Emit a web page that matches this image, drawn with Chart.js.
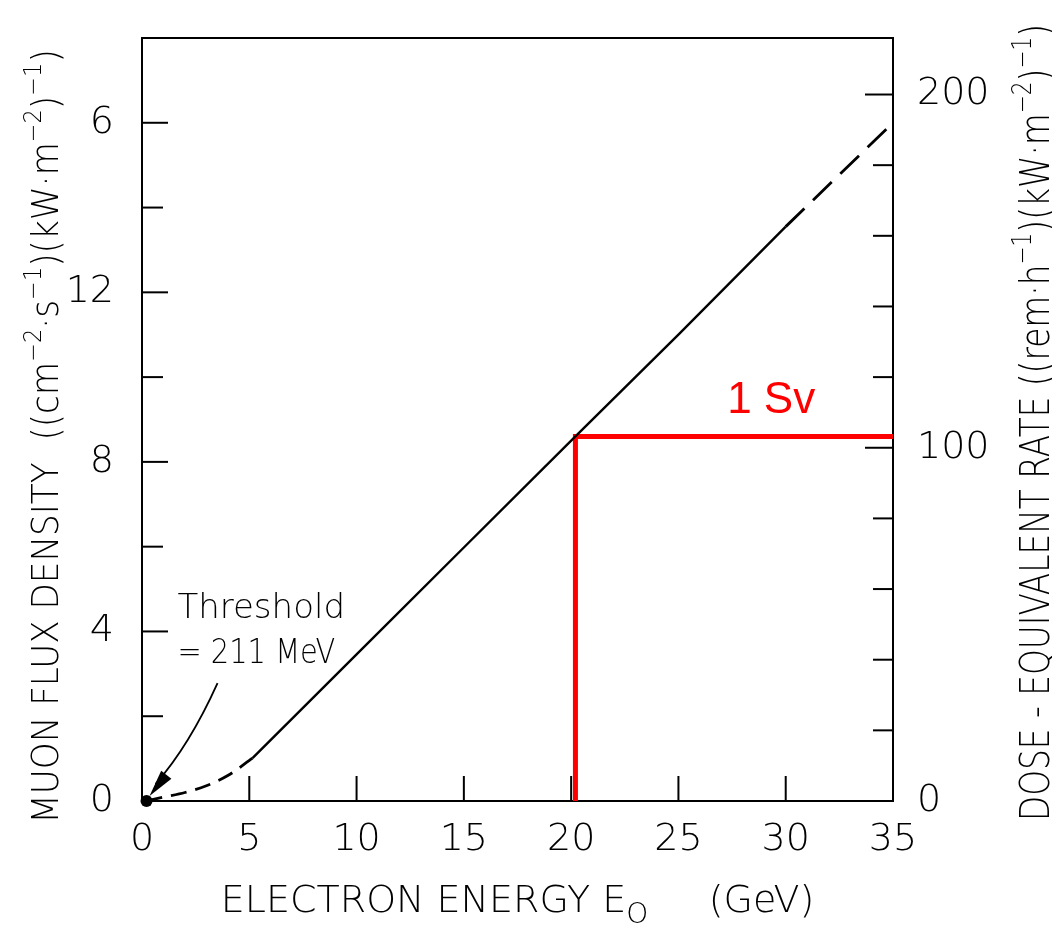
<!DOCTYPE html>
<html><head><meta charset="utf-8">
<script src="https://cdn.jsdelivr.net/npm/chart.js@4.4.1/dist/chart.umd.min.js"></script>
<style>html,body{margin:0;padding:0;background:#fff}#wrap{width:1052px;height:926px;position:relative}</style>
</head><body><div id="wrap"><canvas id="c"></canvas></div>
<script>
// ---- data ----
const energyLow = [0.211, 1, 2, 3, 4, 5.15];
const fluxLow = [0, 0.09, 0.2, 0.36, 0.6, 1.01];
const energyMid = [5.15, 10, 15, 20.2, 25, 30];
const fluxMid = [1.01, 3.46, 5.98, 8.6, 11.0, 13.55];
const energyHigh = [30, 35];
const fluxHigh = [13.55, 16.0];
const svEnergy = [20.2, 20.2, 35];
const svFlux = [0, 8.6, 8.6];
const xTickValues = [0, 5, 10, 15, 20, 25, 30, 35];
const xTickLabels = ['0', '5', '10', '15', '20', '25', '30', '35'];
const leftTickValues = [0, 4, 8, 12, 16];
const leftTickLabels = ['0', '4', '8', '12', '6'];
const rightTickValues = [0, 100, 200];
const rightTickLabels = ['0', '100', '200'];

const FAM = "'DejaVu Sans'";
const W = '200';
function fstr(size){ return W + ' ' + size + 'px ' + FAM; }
function pts(xs, ys){ return xs.map((x,i)=>({x:x, y:ys[i]})); }

function drawRich(ctx, runs, x, y, rot, align, hs){
  ctx.save(); ctx.translate(x, y); ctx.rotate(rot); ctx.scale(hs || 1, 1);
  ctx.textBaseline = 'alphabetic'; ctx.textAlign = 'left';
  const widths = runs.map(r=>{ ctx.font = fstr(r[1]); return ctx.measureText(r[0]).width; });
  const total = widths.reduce((a,b)=>a+b, 0);
  let cx = align === 'center' ? -total/2 : 0;
  runs.forEach((r,i)=>{ ctx.font = fstr(r[1]); ctx.fillText(r[0], cx, r[2]||0); cx += widths[i]; });
  ctx.restore();
}

const decor = {
  id: 'decor',
  afterDraw(chart){
    const {ctx, chartArea:a, scales} = chart;
    const x = scales.x, y = scales.y, y2 = scales.y2;
    ctx.save();
    ctx.strokeStyle = '#000'; ctx.lineWidth = 2;
    const seg = (x1,y1,x2,y2_)=>{ ctx.beginPath(); ctx.moveTo(x1,y1); ctx.lineTo(x2,y2_); ctx.stroke(); };
    seg(a.left, a.top, a.right, a.top);
    // inward ticks
    y.ticks.forEach(t=>{ if (t.value <= y.min || t.value >= y.max) return;
      const p = y.getPixelForValue(t.value); seg(a.left, p, a.left + (leftTickValues.includes(t.value) ? 26 : 21), p); });
    y2.ticks.forEach(t=>{ if (t.value <= y2.min || t.value >= y2.max) return;
      const p = y2.getPixelForValue(t.value); seg(a.right, p, a.right - (rightTickValues.includes(t.value) ? 28 : 20), p); });
    x.ticks.forEach(t=>{ if (t.value <= x.min || t.value >= x.max) return;
      const p = x.getPixelForValue(t.value); seg(p, a.bottom, p, a.bottom - 25); });

    // threshold annotation
    ctx.fillStyle = '#000';
    drawRich(ctx, [['Threshold', 34]], x.getPixelForValue(1.65), y.getPixelForValue(4.32), 0, 'left', 1);
    drawRich(ctx, [['= 211 MeV', 34]], x.getPixelForValue(1.65), y.getPixelForValue(3.25), 0, 'left', 0.85);
    const tipX = x.getPixelForValue(energyLow[0]) + 3, tipY = y.getPixelForValue(fluxLow[0]) - 5;
    const sx = x.getPixelForValue(3.52), sy = y.getPixelForValue(2.78);
    const cx = x.getPixelForValue(2.2), cy = y.getPixelForValue(1.3);
    ctx.lineWidth = 1.8;
    ctx.beginPath(); ctx.moveTo(sx, sy); ctx.quadraticCurveTo(cx, cy, tipX + 6, tipY - 12); ctx.stroke();
    const ang = Math.atan2(tipY - cy, tipX - cx);
    ctx.beginPath();
    ctx.moveTo(tipX, tipY);
    ctx.lineTo(tipX - 27*Math.cos(ang) + 6.5*Math.sin(ang), tipY - 27*Math.sin(ang) - 6.5*Math.cos(ang));
    ctx.lineTo(tipX - 27*Math.cos(ang) - 6.5*Math.sin(ang), tipY - 27*Math.sin(ang) + 6.5*Math.cos(ang));
    ctx.closePath(); ctx.fill();

    // 1 Sv
    ctx.fillStyle = '#ff0000';
    ctx.font = "44px 'Liberation Sans', Arial, sans-serif";
    ctx.textAlign = 'left'; ctx.textBaseline = 'alphabetic';
    ctx.fillText('1 Sv', x.getPixelForValue(27.27), y.getPixelForValue(9.15));

    // axis titles
    ctx.fillStyle = '#000';
    drawRich(ctx, [['MUON FLUX DENSITY  ', 38], ['((cm', 38], ['\u22122', 25, -17], ['\u00b7s', 38], ['\u22121', 25, -17],
      [')(kW\u00b7m', 38], ['\u22122', 25, -17], [')', 38], ['\u22121', 25, -17], [')', 38]],
      58, (a.top + a.bottom)/2 + 17, -Math.PI/2, 'center', 0.9);
    drawRich(ctx, [['DOSE - EQUIVALENT RATE ', 41], ['((rem\u00b7h', 41], ['\u22121', 27, -18],
      [')(kW\u00b7m', 41], ['\u22122', 27, -18], [')', 41], ['\u22121', 27, -18], [')', 41]],
      1049, (a.top + a.bottom)/2 + 3, -Math.PI/2, 'center', 0.8);
    drawRich(ctx, [['ELECTRON ENERGY E', 38], ['O', 28, 11], ['     (GeV)', 38]],
      (a.left + a.right)/2, a.bottom + 111, 0, 'center', 1.0);
    ctx.restore();
  }
};

const tickFont = {family: "'DejaVu Sans'", size: 38, weight: '200'};
new Chart(document.getElementById('c'), {
  type: 'scatter',
  data: { datasets: [
    { data: pts(energyLow, fluxLow), showLine: true, borderColor: '#000', borderWidth: 2.8, borderDash: [16, 9],
      cubicInterpolationMode: 'monotone', pointRadius: c => c.dataIndex === 0 ? 6 : 0, pointBackgroundColor: '#000',
      pointBorderWidth: 0, clip: false },
    { data: pts(energyMid, fluxMid), showLine: true, borderColor: '#000', borderWidth: 2.4, pointRadius: 0 },
    { data: pts(energyHigh, fluxHigh), showLine: true, borderColor: '#000', borderWidth: 2.8, borderDash: [26, 12], pointRadius: 0 },
    { data: pts(svEnergy, svFlux), showLine: true, borderColor: '#ff0000', borderWidth: 5, pointRadius: 0, borderJoinStyle: 'miter', clip: false }
  ]},
  options: {
    responsive: true, maintainAspectRatio: false, animation: false,
    layout: { padding: { top: 38, left: 0, right: 0, bottom: 0 } },
    plugins: { legend: { display: false }, tooltip: { enabled: false } },
    scales: {
      x: { type: 'linear', position: 'bottom', min: 0, max: 35,
        grid: { display: false }, border: { display: true, color: '#000', width: 2 },
        afterFit: s => { s.height = 125; s.paddingLeft = 0; s.paddingRight = 0; },
        afterBuildTicks: s => { s.ticks = xTickValues.map(v => ({value: v})); },
        ticks: { autoSkip: false, maxRotation: 0, color: '#000', font: tickFont, padding: 8,
          callback: v => { const i = xTickValues.indexOf(v); return i >= 0 ? xTickLabels[i] : ''; } } },
      y: { type: 'linear', position: 'left', min: 0, max: 18,
        grid: { display: false }, border: { display: true, color: '#000', width: 2 },
        afterFit: s => { s.width = 142; s.paddingTop = 0; s.paddingBottom = 0; },
        ticks: { stepSize: 2, autoSkip: false, color: '#000', font: tickFont, padding: 20,
          callback: v => { const i = leftTickValues.indexOf(v); return i >= 0 ? leftTickLabels[i] : ''; } } },
      y2: { type: 'linear', position: 'right', min: 0, max: 216,
        grid: { display: false }, border: { display: true, color: '#000', width: 2 },
        afterFit: s => { s.width = 159; s.paddingTop = 0; s.paddingBottom = 0; },
        ticks: { stepSize: 20, autoSkip: false, color: '#000', font: tickFont, padding: 16,
          callback: v => { const i = rightTickValues.indexOf(v); return i >= 0 ? rightTickLabels[i] : ''; } } }
    }
  },
  plugins: [decor]
});
</script></body></html>
